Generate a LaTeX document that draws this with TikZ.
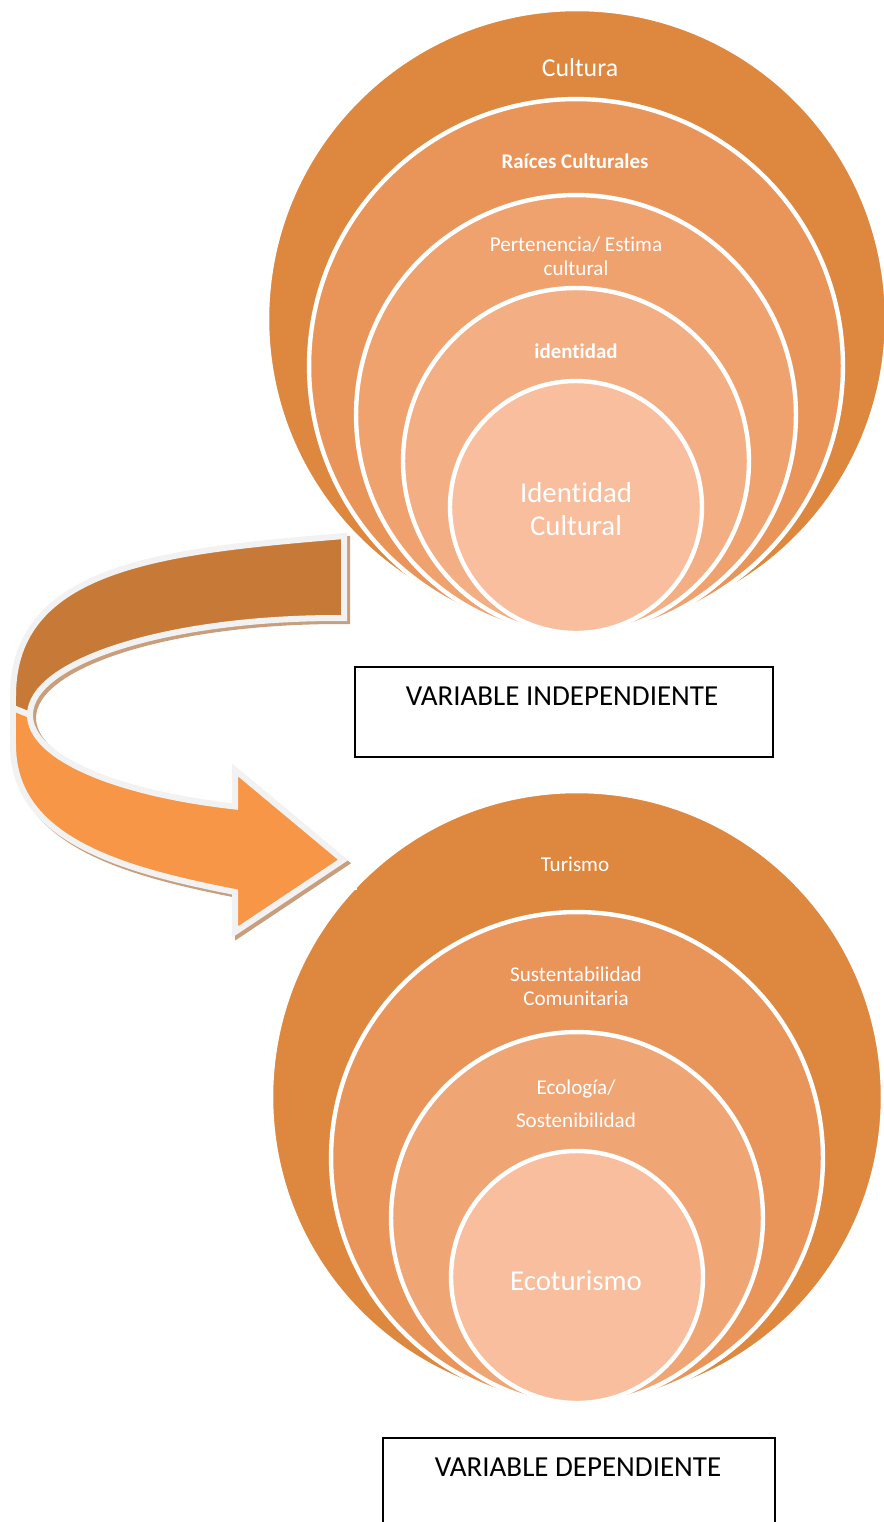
\documentclass[tikz,border=0pt]{standalone}
\usepackage{fontspec}
\setmainfont{Carlito}[Ligatures=NoCommon]
\usetikzlibrary{positioning,shapes}

\definecolor{ringa}{HTML}{DE873F}
\definecolor{ringb}{HTML}{E9955A}
\definecolor{ringc}{HTML}{EFA26E}
\definecolor{ringd}{HTML}{F3AE83}
\definecolor{ringe}{HTML}{F8BE9D}
\definecolor{bandback}{HTML}{C77937}
\definecolor{bandfront}{HTML}{F79646}
\definecolor{bandline}{HTML}{F2F2F2}
\definecolor{bandshade}{HTML}{C99E7C}

\newcommand{\backband}{(344,536) .. controls (164,551) and (13,566) .. (13,696) -- (13,708) -- (30,715)
	arc[start angle=180, end angle=270, x radius=307, y radius=97] -- (344,618) -- cycle}
\newcommand{\frontband}{(13,708) -- (30,715)
	arc[start angle=180, end angle=109.4, x radius=307, y radius=97]
	-- (235,770) -- (343,860) -- (235,932) -- (235,892)
	.. controls (123,870) and (13,840) .. (13,745) -- cycle}

\begin{document}
\begin{tikzpicture}[x=0.02cm, y=-0.02cm,
ring/.style={circle, draw=white, line width=2.5pt, inner sep=0},
ringtext/.style={text=white, align=center, inner sep=0},
varbox/.style={rectangle, draw=black, line width=0.8pt, inner sep=0},
band/.style={draw=bandline, line width=0.12cm, line join=miter},
bandshadow/.style={fill=bandshade, draw=bandshade, line width=0.12cm, line join=miter, shift={(3,3)}}]

\useasboundingbox (0,0) rectangle (884,1522);
\clip (0,0) rectangle (884,1522);

%circles for the independent variable
\node (cultura) [ring, fill=ringa, minimum size=12.4cm] at (577,319) {};
\node (raices) [ring, fill=ringb, minimum size=10.68cm] at (576,366) {};
\node (pertenencia) [ring, fill=ringc, minimum size=8.8cm] at (576,415) {};
\node (identidad) [ring, fill=ringd, minimum size=6.92cm] at (576,461) {};
\node (idcultural) [ring, fill=ringe, minimum size=5.04cm] at (576,507) {};

\node (tcultura) [ringtext, font=\fontsize{14.7}{17}\selectfont] at (580,68) {Cultura};
\node (traices) [ringtext, font=\fontsize{11.9}{14}\bfseries] at (575,161) {Raíces Culturales};
\node (tpertenencia) [ringtext, font=\fontsize{12}{13.6}\selectfont] at (576,256) {Pertenencia/ Estima\\cultural};
\node (tidentidad) [ringtext, font=\fontsize{11.9}{14}\bfseries] at (576,351) {identidad};
\node (tidcultural) [ringtext, font=\fontsize{16.4}{18.5}\selectfont] at (576,509) {Identidad\\Cultural};

%circles for the dependent variable
\node (turismo) [ring, fill=ringa, minimum size=12.24cm] at (577,1097) {};
\node (sustent) [ring, fill=ringb, minimum size=9.84cm] at (577,1158) {};
\node (ecologia) [ring, fill=ringc!70!ringd, minimum size=7.44cm] at (577,1218) {};
\node (ecoturismo) [ring, fill=ringe, minimum size=5.04cm] at (577,1277) {};

\node (tturismo) [ringtext, font=\fontsize{12}{14}\selectfont] at (575,864) {Turismo};
\node (tsustent) [ringtext, font=\fontsize{12}{13.9}\selectfont] at (576,986) {Sustentabilidad\\Comunitaria};
\node (tecologia) [ringtext, font=\fontsize{12}{18.7}\selectfont] at (576,1104) {Ecología/\\Sostenibilidad};
\node (tecoturismo) [ringtext, font=\fontsize{16.4}{18.5}\selectfont] at (576,1281) {Ecoturismo};

%curved arrow
\fill[white] (10,560) rectangle (357,890);
\fill[white] (10,560) rectangle (312,946);
\path[bandshadow] \backband;
\path[band, fill=bandback] \backband;
\path[bandshadow] \frontband;
\path[band, fill=bandfront] \frontband;

%variable boxes
\node (indbox) [varbox, minimum width=8.36cm, minimum height=1.8cm] at (564,712) {};
\node (indtext) [font=\fontsize{16.5}{19}\selectfont, inner sep=0] at (562,696.5) {VARIABLE INDEPENDIENTE};
\node (depbox) [varbox, minimum width=7.84cm, minimum height=2.0cm] at (579,1488) {};
\node (deptext) [font=\fontsize{16.5}{19}\selectfont, inner sep=0] at (578,1467.5) {VARIABLE DEPENDIENTE};

\end{tikzpicture}
\end{document}
